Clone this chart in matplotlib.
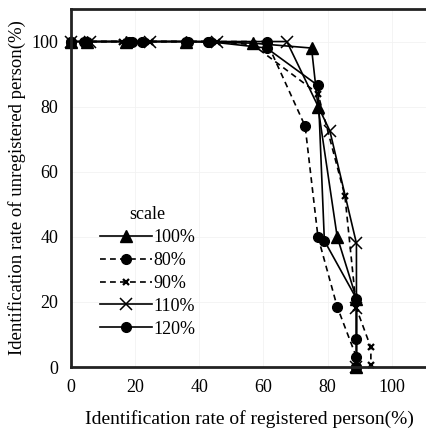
import matplotlib
matplotlib.use("Agg")
import matplotlib.pyplot as plt

plt.rcParams['font.family'] = ['Liberation Serif', 'DejaVu Serif']

# Identification rates (%) for each scale setting
x_100 = [0, 5, 17, 36, 56.7, 75, 77, 83, 89, 89]
y_100 = [100, 100, 100, 100, 99.5, 98, 80, 40, 21, 0]

x_80 = [0, 4, 18, 36, 43, 61, 73, 77, 83, 89, 89]
y_80 = [100, 100, 100, 100, 100, 100, 74, 40, 18.5, 3, 0]

x_90 = [0, 4, 16, 24.6, 45.5, 56.7, 77, 85.4, 89, 93.5, 93.5]
y_90 = [100, 100, 100, 100, 100, 99, 84, 52.6, 18, 6, 0.5]

x_110 = [0, 6, 24.6, 45.5, 67.3, 80.7, 89, 89, 89]
y_110 = [100, 100, 100, 100, 100, 72.6, 38, 18, 0]

x_120 = [0, 5, 19, 22, 36.4, 42.7, 61, 77, 79, 89, 89, 89]
y_120 = [100, 100, 100, 100, 100, 100, 98, 86.5, 38.8, 21, 8.6, 0]

scale_labels = ['100%', '80%', '90%', '110%', '120%']
x_ticks = [0, 20, 40, 60, 80, 100]
y_ticks = [0, 20, 40, 60, 80, 100]

fig = plt.figure(figsize=(4.27, 4.38), dpi=100)
ax = fig.add_axes([71 / 427, (438 - 367) / 438, 1 - 71 / 427, (367 - 9) / 438])

lw = 1.2
series = [
    (x_100, y_100, '-', '^', 8, 1.0),
    (x_80, y_80, '--', 'o', 7, 1.0),
    (x_90, y_90, '--', 'x', 5, 1.6),
    (x_110, y_110, '-', 'x', 8, 1.1),
    (x_120, y_120, '-', 'o', 7, 1.0),
]
for (xs, ys, ls, mk, ms, mew), lab in zip(series, scale_labels):
    ax.plot(xs, ys, linestyle=ls, marker=mk, markersize=ms, color='black',
            linewidth=lw, markeredgewidth=mew, label=lab,
            dashes=(3.5, 2.5) if ls == '--' else (None, None), clip_on=False)

ax.set_xlim(0, 111)
ax.set_ylim(0, 110)
ax.set_xticks(x_ticks)
ax.set_yticks(y_ticks)
ax.tick_params(length=0, labelsize=13, pad=9)
ax.grid(True, color='#f2f2f2', linewidth=0.6)
ax.set_axisbelow(True)

for side in ['left', 'top', 'bottom']:
    ax.spines[side].set_linewidth(2.0)
    ax.spines[side].set_color('#222222')
ax.spines['right'].set_visible(False)

ax.set_xlabel('Identification rate of registered person(%)', fontsize=14, labelpad=10)
ax.set_ylabel('Identification rate of unregistered person(%)', fontsize=13.5, labelpad=4)

leg = ax.legend(title='scale', loc='upper left', bbox_to_anchor=(0.055, 0.475),
                frameon=False, fontsize=13, title_fontsize=13,
                handlelength=2.9, handletextpad=0.1, labelspacing=0.33,
                borderpad=0, markerfirst=True)

fig.savefig('out.png', dpi=100)
